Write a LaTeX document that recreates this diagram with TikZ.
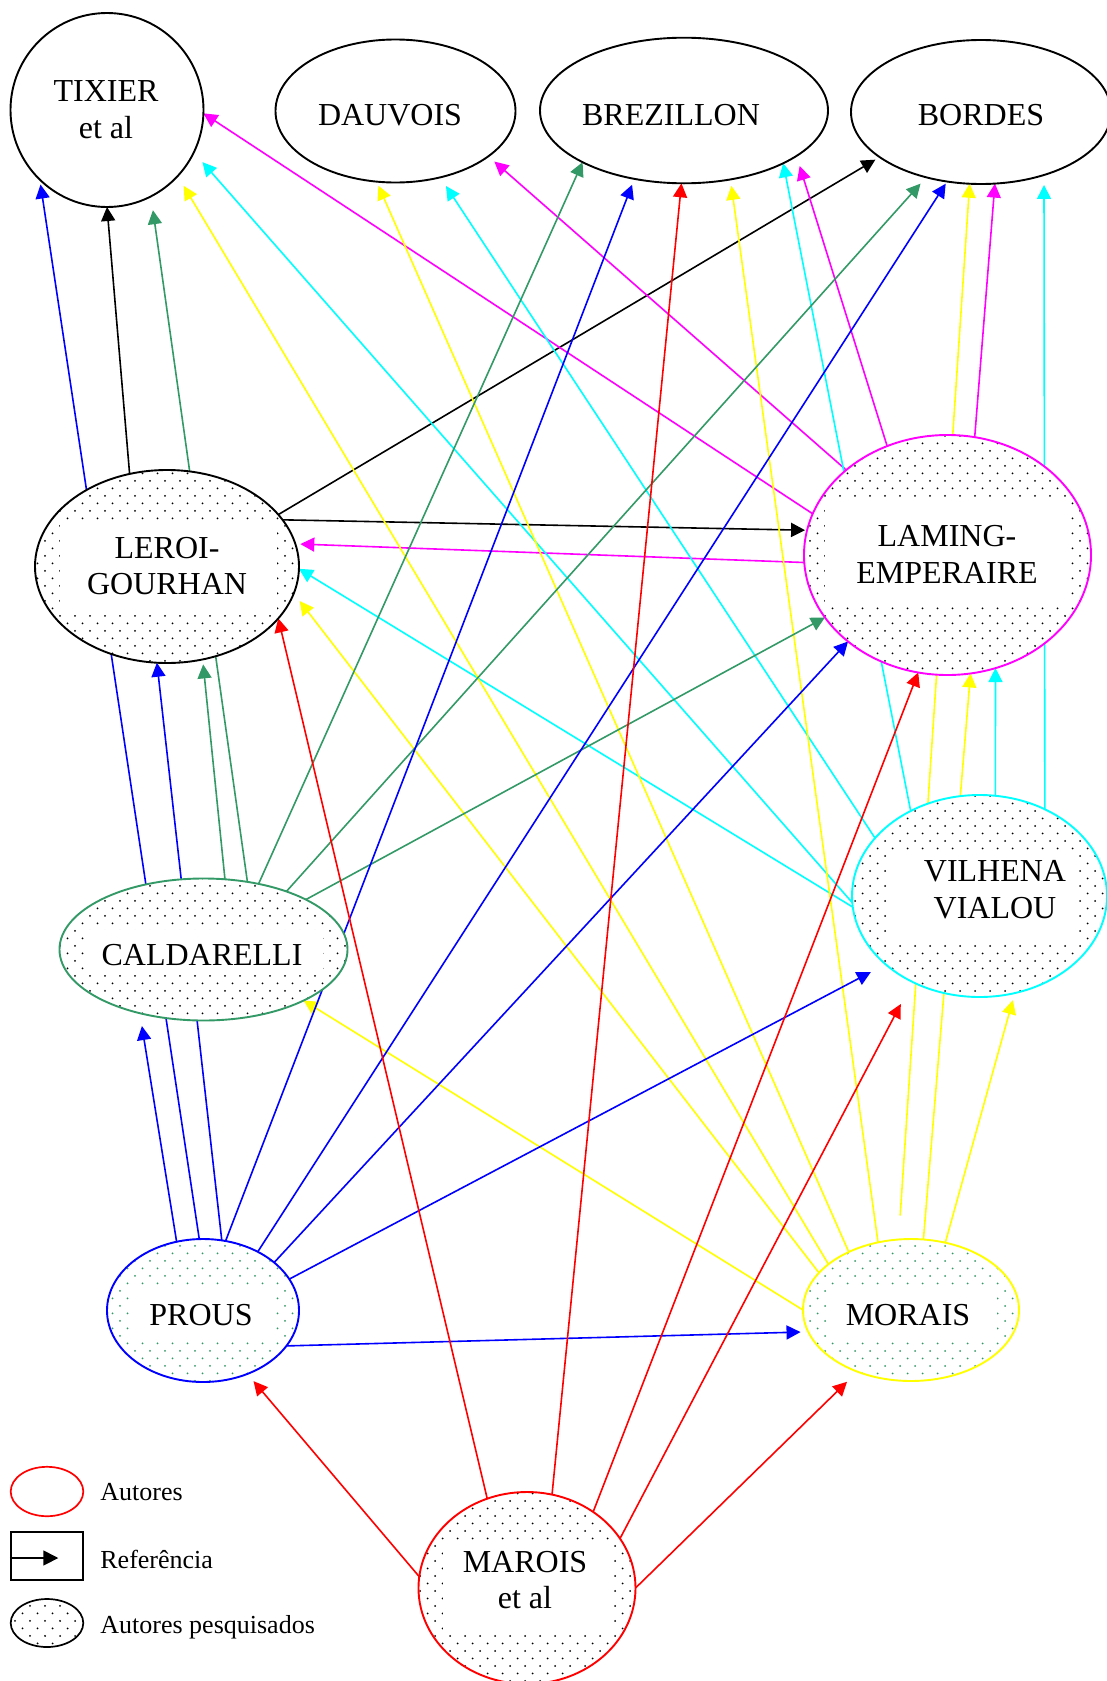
\documentclass[tikz,border=0pt]{standalone}
\usepackage{fontspec}
\setmainfont{Liberation Serif}
\usetikzlibrary{arrows.meta,shapes.geometric,patterns}

\definecolor{sgreen}{RGB}{51,153,102}
\definecolor{mag}{RGB}{255,0,255}
\definecolor{cyn}{RGB}{0,255,255}
\definecolor{yel}{RGB}{255,255,0}
\definecolor{blu}{RGB}{0,0,255}
\definecolor{rd}{RGB}{255,0,0}

% staggered dot grid used inside the "studied author" ellipses
\pgfdeclarepatternformonly{stagdots}{\pgfqpoint{-0.6pt}{-0.6pt}}{\pgfqpoint{4.4pt}{4.4pt}}{\pgfqpoint{7.5pt}{7.5pt}}{%
  \pgfpathcircle{\pgfqpoint{0pt}{0pt}}{0.5pt}%
  \pgfpathcircle{\pgfqpoint{3.75pt}{3.75pt}}{0.5pt}%
  \pgfusepath{fill}}

\pgfdeclarelayer{edges}
\pgfsetlayers{edges,main}

\tikzset{
  author/.style={ellipse, draw, line width=0.95pt, inner sep=0pt, outer sep=0pt, fill=white},
  studied/.style={ellipse, draw, line width=0.95pt, inner sep=0pt, outer sep=0pt,
    preaction={fill=white}, pattern=stagdots, pattern color=#1},
  band/.style n args={4}{path picture={\fill[white]
    ([shift={(#1pt,#2pt)}]path picture bounding box.center) rectangle ++(#3pt,#4pt);}},
  lbl/.style={font=\fontsize{16}{18.35}\selectfont, align=center, inner sep=0pt},
  keytext/.style={font=\fontsize{13}{15}\selectfont, inner sep=0pt, anchor=base west},
  edge/.style={line width=0.8pt, -{Triangle[length=7pt,width=7pt]}},
}

\begin{document}
\begin{tikzpicture}[x=0.5pt, y=-0.5pt]
\useasboundingbox (0,0) rectangle (1107,1681);

% ---- cited authors (top row)
\node[author, minimum width=96.5pt, minimum height=97pt] (tix) at (107,110) {};
\node[author, minimum width=120pt, minimum height=71.5pt] (dau) at (395.5,111) {};
\node[author, minimum width=144pt, minimum height=72.8pt] (bre) at (684,110.5) {};
\node[author, minimum width=130pt, minimum height=72pt] (bor) at (981,112) {};

% ---- studied authors
\node[studied=black, draw=black, band={-53.5}{-24.25}{108.5}{47.5},
      minimum width=132pt, minimum height=96.5pt] (lg) at (167,566.5) {};
\node[studied=black, draw=mag, band={-61.25}{-26}{122.5}{53.5},
      minimum width=143.5pt, minimum height=120pt] (le) at (947.5,555) {};
\node[studied=black, draw=sgreen, band={-58.25}{-12.75}{118}{22.5},
      minimum width=144pt, minimum height=71pt] (cal) at (203.5,949.5) {};
\node[studied=black, draw=cyn, band={-45.25}{-22.5}{94}{44.5},
      minimum width=127.5pt, minimum height=101pt] (vil) at (979.5,896) {};
\node[studied=sgreen, draw=blu, band={-36.5}{-13.75}{72.5}{26.5},
      minimum width=96pt, minimum height=71.5pt] (prous) at (203,1310.5) {};
\node[studied=sgreen, draw=yel, band={-42}{-14}{85}{26.5},
      minimum width=108pt, minimum height=71pt] (mor) at (911,1310) {};
\node[studied=black, draw=rd, band={-42}{-21}{83.5}{45},
      minimum width=108.5pt, minimum height=96pt] (mar) at (527,1588) {};

% ---- names
\node[lbl] (tix-t) at (106,110) {TIXIER\\et al};
\node[lbl] (dau-t) at (390,115) {DAUVOIS};
\node[lbl] (bre-t) at (671,115) {BREZILLON};
\node[lbl] (bor-t) at (981,115) {BORDES};
\node[lbl] (lg-t) at (167,566) {LEROI-\\GOURHAN};
\node[lbl] (le-t) at (947,554.5) {LAMING-\\EMPERAIRE};
\node[lbl] (cal-t) at (202,955.5) {CALDARELLI};
\node[lbl] (vil-t) at (995,890) {VILHENA\\VIALOU};
\node[lbl] (prous-t) at (201,1315) {PROUS};
\node[lbl] (mor-t) at (908,1315) {MORAIS};
\node[lbl] (mar-t) at (525,1580) {MAROIS\\et al};

% ---- key
\node[ellipse, draw=rd, line width=0.85pt, inner sep=0pt, minimum width=36.3pt, minimum height=24.7pt] (kA) at (47,1491.5) {};
\node[draw, line width=0.9pt, inner sep=0pt, minimum width=36.3pt, minimum height=24pt] (kR) at (47,1556) {};
\coordinate (kRtip) at (58.3,1558);
\draw[line width=0.8pt, -{Triangle[length=7.5pt,width=7.5pt]}] (kR.west |- kRtip) -- (kRtip);
\node[studied=black, draw=black, line width=0.85pt, minimum width=36.3pt, minimum height=24pt] (kS) at (47,1623) {};
\node[keytext] (kA-t) at (100,1500) {Autores};
\node[keytext] (kR-t) at (100,1568.3) {Referência};
\node[keytext] (kS-t) at (100,1633.3) {Autores pesquisados};

% ---- references (drawn beneath the ellipses)
\begin{pgfonlayer}{edges}
% LEROI-GOURHAN
\draw[edge, black] (lg.112.6) -- (tix.270);
\draw[edge, black, shorten >=2.5pt] (lg.25.9) -- (bor.204);
\draw[edge, black, shorten >=1pt] (lg.22.2) -- (le.170.25);
% LAMING-EMPERAIRE
\draw[edge, mag] (le.163.6) -- (tix.-2);
\draw[edge, mag, shorten >=4pt] (le.140.2) -- (dau.-26.9);
\draw[edge, mag, shorten >=5.3pt] (le.119) -- (bre.-22);
\draw[edge, mag] (le.77.8) -- (bor.-79.1);
\draw[edge, mag, shorten >=2.5pt] (le.183.6) -- (lg.10.2);
% VILHENA VIALOU
\draw[edge, cyn, shorten >=6.5pt] (vil.183) -- (tix.-26.6);
\draw[edge, cyn, shorten >=5.2pt] (vil.151.8) -- (dau.-56);
\draw[edge, cyn] (vil.129.8) -- (bre.-28.6);
\draw[edge, cyn, shorten >=5pt] (vil.53.8) -- (bor.-45.3);
\draw[edge, cyn] (vil.81.2) -- (le.-67.2);
\draw[edge, cyn] (vil.185.8) -- (lg.-1.5);
% MORAIS
\draw[edge, yel, shorten >=5.75pt] (mor.151) -- (tix.-43.9);
\draw[edge, yel, shorten >=2.25pt] (mor.137.8) -- (dau.255.4);
\draw[edge, yel, shorten >=3.25pt] (mor.116.7) -- (bre.-56.7);
\draw[edge, yel, shorten <=12pt] (mor.100.8) -- (bor.261.4);
\draw[edge, yel] (mor.80.3) -- (le.-79.6);
\draw[edge, yel, shorten >=3.7pt] (mor.63.5) -- (vil.-70.2);
\draw[edge, yel, shorten >=4.8pt] (mor.158.7) -- (lg.-12.2);
\draw[edge, yel] (mor.180) -- (cal.-27.4);
% CALDARELLI
\draw[edge, sgreen, shorten >=2.5pt] (cal.73.5) -- (lg.-69);
\draw[edge, sgreen, shorten >=7pt] (cal.57.3) -- (tix.-63.7);
\draw[edge, sgreen] (cal.50.2) -- (bre.207.9);
\draw[edge, sgreen, shorten >=4.25pt] (cal.35.5) -- (bor.230.4);
\draw[edge, sgreen] (cal.26.5) -- (le.207.2);
% PROUS
\draw[edge, blu, shorten >=6.5pt] (prous.111.7) -- (cal.225.8);
\draw[edge, blu, shorten >=2.5pt] (prous.93.2) -- (tix.226.6);
\draw[edge, blu] (prous.75.3) -- (lg.264.1);
\draw[edge, blu, shorten >=3.15pt] (prous.72.2) -- (bre.234.2);
\draw[edge, blu, shorten >=1.3pt] (prous.47.7) -- (bor.244.1);
\draw[edge, blu] (prous.34.3) -- (le.221.8);
\draw[edge, blu, shorten >=8.3pt] (prous.20.5) -- (vil.216.6);
\draw[edge, blu, shorten >=3.85pt] (prous.-23.2) -- (mor.192.9);
% MAROIS
\draw[edge, rd, shorten >=4.75pt] (mar.174) -- (prous.-55.6);
\draw[edge, rd] (mar.114.7) -- (lg.-25.8);
\draw[edge, rd] (mar.75.3) -- (bre.268.4);
\draw[edge, rd] (mar.49.3) -- (le.256);
\draw[edge, rd, shorten >=12.5pt] (mar.28.6) -- (vil.232.4);
\draw[edge, rd, shorten >=7.25pt] (mar.0) -- (mor.229.7);
\end{pgfonlayer}
\end{tikzpicture}
\end{document}
